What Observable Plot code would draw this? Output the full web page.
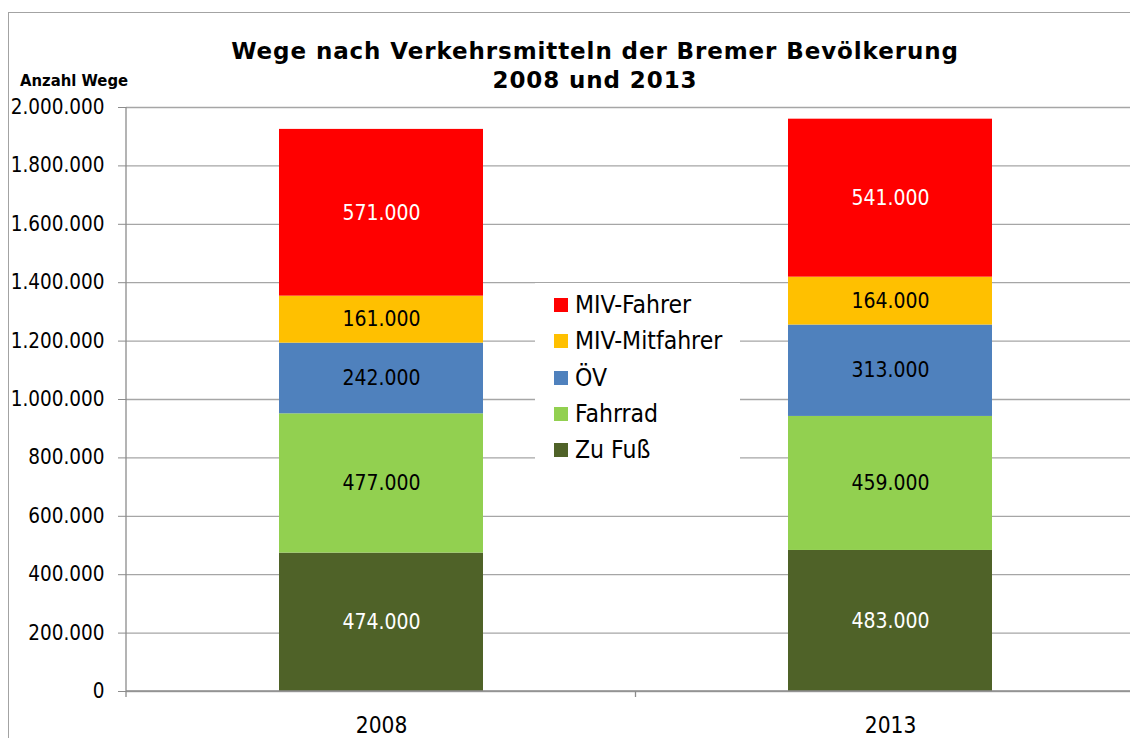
<!DOCTYPE html>
<html>
<head>
<meta charset="utf-8">
<script src="https://cdn.jsdelivr.net/npm/d3@7"></script>
<script src="https://cdn.jsdelivr.net/npm/@observablehq/plot@0.6"></script>
<style>
  html, body { margin: 0; padding: 0; background: #fff; }
  #wrap { position: relative; width: 1130px; height: 738px; overflow: hidden; background: #fff; }
  #chart { position: absolute; left: 0; top: 0; }
  .border { position: absolute; left: 8px; top: 12px; width: 1200px; height: 800px;
            border-left: 1.3px solid #a3a3a3; border-top: 1.3px solid #a3a3a3; pointer-events: none; }
  .title { position: absolute; left: 30px; width: 1130px; text-align: center;
           font-family: "DejaVu Sans", sans-serif; font-weight: bold; letter-spacing: 0.9px;
           font-size: 23px; line-height: 23px; color: #000; white-space: pre; }
  .ylab { position: absolute; left: 20px; top: 73px; font-family: "DejaVu Sans Condensed", "DejaVu Sans", sans-serif;
          font-weight: bold; font-size: 16.5px; line-height: 16.5px; color: #000; }
  #legend { position: absolute; left: 535px; top: 283px; width: 205px; height: 188px; background: #fff; }
  .row { position: absolute; left: 0; height: 36.3px; line-height: 36.3px; display: flex; align-items: center;
         font-family: "DejaVu Sans Condensed", "DejaVu Sans", sans-serif; font-size: 24.5px; color: #000; }
  .sw { width: 14px; height: 14px; margin-left: 19px; margin-right: 7px; }
</style>
</head>
<body>
<div id="wrap">
  <div id="chart"></div>
  <div class="title" id="t1" style="top:39.5px"></div>
  <div class="title" id="t2" style="top:68.5px"></div>
  <div class="ylab" id="ylab"></div>
  <div id="legend"></div>
  <div class="border"></div>
</div>
<script>
// ---- data ----
const titleLines = ["Wege nach Verkehrsmitteln der Bremer Bevölkerung", "2008 und 2013"];
const yAxisTitle = "Anzahl Wege";
const years = ["2008", "2013"];
const modes = ["Zu Fuß", "Fahrrad", "ÖV", "MIV-Mitfahrer", "MIV-Fahrer"];
const colors = ["#4F6228", "#92D050", "#4F81BD", "#FFC000", "#FF0000"];
const values2008 = [474000, 477000, 242000, 161000, 571000];
const values2013 = [483000, 459000, 313000, 164000, 541000];
const yTicks = [0, 200000, 400000, 600000, 800000, 1000000, 1200000, 1400000, 1600000, 1800000, 2000000];
const whiteLabelModes = ["Zu Fuß", "MIV-Fahrer"];
const legendOrder = ["MIV-Fahrer", "MIV-Mitfahrer", "ÖV", "Fahrrad", "Zu Fuß"];

// ---- table ----
const seriesByYear = {"2008": values2008, "2013": values2013};
const data = [];
for (const y of years) modes.forEach((m, i) => data.push({year: y, mode: m, value: seriesByYear[y][i]}));

const de = d3.formatLocale({decimal: ",", thousands: ".", grouping: [3], currency: ["", " €"]});
const fmt = de.format(",d");
const font = "'DejaVu Sans Condensed', 'DejaVu Sans', sans-serif";

const plot = Plot.plot({
  width: 1130,
  height: 738,
  marginLeft: 126,
  marginRight: 0,
  marginTop: 107,
  marginBottom: 47,
  style: {fontFamily: font, fontSize: "20.5px", background: "transparent", color: "#000", overflow: "visible"},
  x: {type: "band", domain: years, range: [126, 1145], paddingInner: 0.6, paddingOuter: 0.3, label: null},
  y: {domain: [0, 2000000], label: null},
  color: {domain: modes, range: colors},
  marks: [
    Plot.ruleY(yTicks, {stroke: "#a6a6a6", strokeWidth: 1.3}),
    Plot.barY(data, {x: "year", y: "value", fill: "mode", order: modes}),
    Plot.text(data, Plot.stackY({x: "year", y: "value", z: "mode", order: modes,
      text: d => whiteLabelModes.includes(d.mode) ? "" : fmt(d.value), fill: "black", fontSize: 21})),
    Plot.text(data, Plot.stackY({x: "year", y: "value", z: "mode", order: modes,
      text: d => whiteLabelModes.includes(d.mode) ? fmt(d.value) : "", fill: "white", fontSize: 21})),
    Plot.axisY({ticks: yTicks, tickFormat: fmt, tickSize: 8, tickPadding: 14, stroke: "#8c8c8c", fill: "black", label: null}),
    Plot.axisX({tickSize: 0, tickPadding: 26, fontSize: 22.5, fill: "black", label: null})
  ]
});
document.getElementById("chart").appendChild(plot);

// axis lines drawn from the scales
const xs = plot.scale("x"), ys = plot.scale("y");
const svg = d3.select(plot);
const y0 = ys.apply(0), yTop = ys.apply(2000000);
const axisG = svg.append("g").attr("stroke", "#8c8c8c").attr("stroke-width", 1.3);
axisG.append("line").attr("x1", xs.range[0]).attr("x2", xs.range[0]).attr("y1", yTop).attr("y2", y0 + 6);
axisG.append("line").attr("x1", xs.range[0]).attr("x2", 1130).attr("y1", y0).attr("y2", y0);
const mid = (xs.apply(years[0]) + xs.bandwidth + xs.apply(years[1])) / 2;
axisG.append("line").attr("x1", mid).attr("x2", mid).attr("y1", y0).attr("y2", y0 + 6);

// titles
document.getElementById("t1").textContent = titleLines[0];
document.getElementById("t2").textContent = titleLines[1];
document.getElementById("ylab").textContent = yAxisTitle;

// legend
const leg = document.getElementById("legend");
legendOrder.forEach((m, i) => {
  const row = document.createElement("div");
  row.className = "row";
  row.style.top = (4 + i * 36.3) + "px";
  const sw = document.createElement("div");
  sw.className = "sw";
  sw.style.background = colors[modes.indexOf(m)];
  const tx = document.createElement("span");
  tx.textContent = m;
  row.appendChild(sw); row.appendChild(tx);
  leg.appendChild(row);
});
</script>
</body>
</html>
